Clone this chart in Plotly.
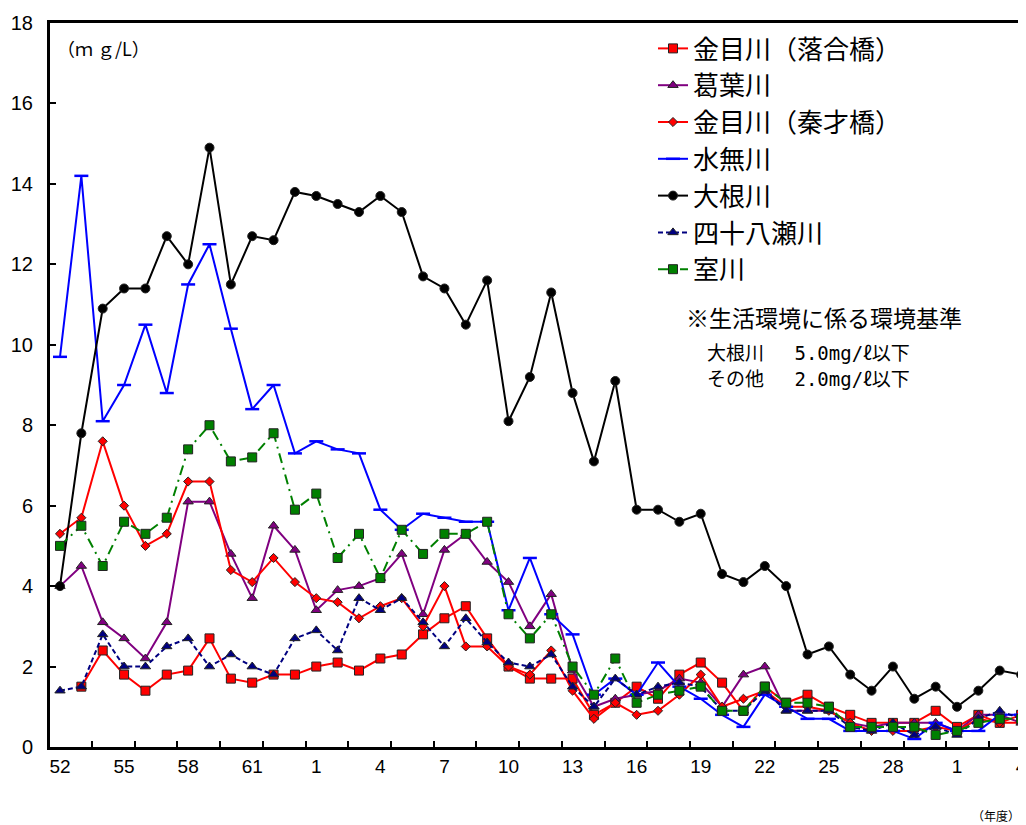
import plotly.graph_objects as go

# Fiscal years: Showa 52 - Showa 63, Heisei 1 - Heisei 30, Reiwa 1 - Reiwa 4
years = ["S52", "S53", "S54", "S55", "S56", "S57", "S58", "S59", "S60", "S61", "S62", "S63",
         "H1", "H2", "H3", "H4", "H5", "H6", "H7", "H8", "H9", "H10",
         "H11", "H12", "H13", "H14", "H15", "H16", "H17", "H18", "H19", "H20",
         "H21", "H22", "H23", "H24", "H25", "H26", "H27", "H28", "H29", "H30",
         "R1", "R2", "R3", "R4"]

tick_years = ["S52", "S55", "S58", "S61", "H1", "H4", "H7", "H10", "H13", "H16",
              "H19", "H22", "H25", "H28", "R1", "R4"]
tick_text = ["52", "55", "58", "61", "1", "4", "7", "10", "13", "16",
             "19", "22", "25", "28", "1", "4"]

kaname_ochiai = [None, 1.5, 2.4, 1.8, 1.4, 1.8, 1.9, 2.7, 1.7, 1.6, 1.8, 1.8,
                 2.0, 2.1, 1.9, 2.2, 2.3, 2.8, 3.2, 3.5, 2.7, 2.0,
                 1.7, 1.7, 1.7, 0.8, 1.1, 1.5, 1.2, 1.8, 2.1, 1.6,
                 0.9, 1.5, 1.1, 1.3, 1.0, 0.8, 0.6, 0.6, 0.6, 0.9,
                 0.5, 0.8, 0.6, 0.8]
kuzuha = [4.0, 4.5, 3.1, 2.7, 2.2, 3.1, 6.1, 6.1, 4.8, 3.7, 5.5, 4.9,
          3.4, 3.9, 4.0, 4.2, 4.8, 3.3, 4.9, 5.3, 4.6, 4.1,
          3.0, 3.8, 1.9, 1.0, 1.2, 1.3, 1.4, 1.7, 1.6, 1.0,
          1.8, 2.0, 0.9, 0.9, 0.9, 0.6, 0.5, 0.6, 0.6, 0.6,
          0.4, 0.8, 0.8, 0.6]
kaname_hatano = [5.3, 5.7, 7.6, 6.0, 5.0, 5.3, 6.6, 6.6, 4.4, 4.1, 4.7, 4.1,
                 3.7, 3.6, 3.2, 3.5, 3.7, 3.0, 4.0, 2.5, 2.5, 2.0,
                 1.8, 2.4, 1.4, 0.7, 1.1, 0.8, 0.9, 1.3, 1.8, 1.0,
                 1.2, 1.4, 1.0, 1.0, 0.9, 0.6, 0.4, 0.4, 0.4, 0.5,
                 0.4, 0.7, 0.6, 0.6]
minase = [9.7, 14.2, 8.1, 9.0, 10.5, 8.8, 11.5, 12.5, 10.4, 8.4, 9.0, 7.3,
          7.6, 7.4, 7.3, 5.9, 5.4, 5.8, 5.7, 5.6, 5.6, 3.4,
          4.7, 3.3, 2.8, 1.3, 1.7, 1.3, 2.1, 1.5, 1.2, 0.8,
          0.5, 1.3, 1.0, 0.7, 0.7, 0.4, 0.4, 0.4, 0.2, 0.6,
          0.4, 0.4, 0.8, 0.8]
oone = [4.0, 7.8, 10.9, 11.4, 11.4, 12.7, 12.0, 14.9, 11.5, 12.7, 12.6, 13.8,
        13.7, 13.5, 13.3, 13.7, 13.3, 11.7, 11.4, 10.5, 11.6, 8.1,
        9.2, 11.3, 8.8, 7.1, 9.1, 5.9, 5.9, 5.6, 5.8, 4.3,
        4.1, 4.5, 4.0, 2.3, 2.5, 1.8, 1.4, 2.0, 1.2, 1.5,
        1.0, 1.4, 1.9, 1.8]
shijuhachise = [1.4, 1.5, 2.8, 2.0, 2.0, 2.5, 2.7, 2.0, 2.3, 2.0, 1.8, 2.7,
                2.9, 2.4, 3.7, 3.4, 3.7, 3.1, 2.5, 3.2, 2.6, 2.1,
                2.0, 2.3, 1.5, 1.0, 1.7, 1.3, 1.5, 1.6, 1.5, 0.9,
                0.9, 1.4, 0.9, 0.9, 0.9, 0.5, 0.4, 0.6, 0.3, 0.5,
                0.3, 0.7, 0.9, 0.7]
muro = [5.0, 5.5, 4.5, 5.6, 5.3, 5.7, 7.4, 8.0, 7.1, 7.2, 7.8, 5.9,
        6.3, 4.7, 5.3, 4.2, 5.4, 4.8, 5.3, 5.3, 5.6, 3.3,
        2.7, 3.3, 2.0, 1.3, 2.2, 1.1, 1.3, 1.4, 1.5, 0.9,
        0.9, 1.5, 1.1, 1.1, 1.0, 0.5, 0.5, 0.5, 0.5, 0.3,
        0.4, 0.6, 0.7, 0.7]

x = list(range(len(years)))
tick_pos = [years.index(y) for y in tick_years]
minor_pos = [i + 0.5 for i in range(1, len(years) - 1, 2)]

JP = "Noto Sans CJK JP"
MONO_JP = "DejaVu Sans Mono, Noto Sans CJK JP"
OUT = "#222222"

series = [
    ("金目川（落合橋）", kaname_ochiai, "#FF0000", "solid", "square", 9, "#FF0000"),
    ("葛葉川", kuzuha, "#800080", "solid", "triangle-up", 9, "#800080"),
    ("金目川（秦才橋）", kaname_hatano, "#FF0000", "solid", "diamond", 7, "#FF0000"),
    ("水無川", minase, "#0000FF", "solid", "line-ew", 10, "#0000FF"),
    ("大根川", oone, "#000000", "solid", "circle", 9, "#000000"),
    ("四十八瀬川", shijuhachise, "#000080", "5px,3px", "triangle-up", 9, "#000080"),
    ("室川", muro, "#008000", "10px,5px,2px,5px", "square", 9, "#008000"),
]

fig = go.Figure()
for name, vals, color, dash, sym, size, mcol in series:
    if sym == "line-ew":
        marker = dict(symbol=sym, size=size, line=dict(color=color, width=2.5))
    else:
        marker = dict(symbol=sym, size=size, color=mcol, line=dict(color=OUT, width=1))
    fig.add_trace(go.Scatter(
        x=x, y=vals, name=name, mode="lines+markers",
        line=dict(color=color, width=2, dash=dash),
        marker=marker, connectgaps=False,
    ))

# The page body adds an 8px offset; positions below are in screen pixels.
OFF = 8
W, H = 1026, 825
L, R, T, B = 50 - OFF, 1026 - OFF, 23 - OFF, 747 - OFF

fig.update_layout(
    width=W, height=H,
    margin=dict(l=L, r=W - R, t=T, b=H - B, autoexpand=False),
    paper_bgcolor="white", plot_bgcolor="white",
    font=dict(family="Liberation Sans, Arial, " + JP, color="black"),
    legend=dict(
        x=(653 - OFF - L) / (R - L), y=(B - (25 - OFF)) / (B - T),
        xanchor="left", yanchor="top",
        font=dict(family=JP, size=26, color="black"),
        bgcolor="rgba(0,0,0,0)", tracegroupgap=0,
    ),
    xaxis=dict(
        range=[-0.468, 45.23], showgrid=False, zeroline=False, automargin=False,
        showline=True, linecolor="black", linewidth=3, mirror=True,
        tickmode="array", tickvals=tick_pos, ticktext=tick_text, ticks="",
        tickfont=dict(size=19, family="Liberation Sans, Arial"),
        minor=dict(tickmode="array", tickvals=minor_pos, ticks="inside",
                   ticklen=6, tickwidth=1.5, tickcolor="black", showgrid=False),
    ),
    yaxis=dict(
        range=[0, 18], dtick=2, showgrid=False, zeroline=False, automargin=False,
        showline=True, linecolor="black", linewidth=3,
        ticks="inside", ticklen=6, tickwidth=1.5, tickcolor="black",
        tickfont=dict(size=20, family="Liberation Sans, Arial"),
        ticklabelstandoff=10,
    ),
)


def add_text(sx, sy, text, size, xanchor="center", family=JP):
    ax = (sx - OFF - L) / (R - L)
    ay = (B - (sy - OFF)) / (B - T)
    fig.add_annotation(x=ax, y=ay, xref="paper", yref="paper", text=text,
                       xanchor=xanchor, yanchor="middle", align="left",
                       showarrow=False, font=dict(family=family, size=size, color="black"))


add_text(55, 48, "（ｍ ｇ/L）", 18, "left")
add_text(824, 317, "※生活環境に係る環境基準", 23)
add_text(705, 353, "大根川　 5.0mg/ℓ以下", 19, "left", MONO_JP)
add_text(705, 379, "その他　 2.0mg/ℓ以下", 19, "left", MONO_JP)
add_text(1022, 815, "（年度）", 12, "right")

fig.write_html("out.html")
